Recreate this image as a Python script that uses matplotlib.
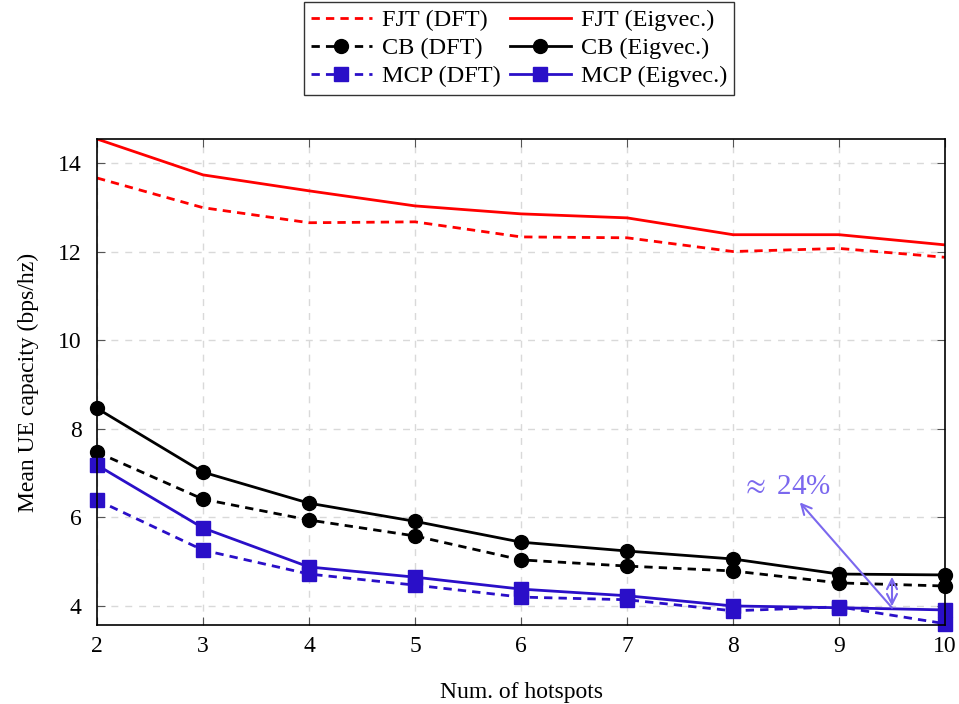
import matplotlib
matplotlib.use("Agg")
import matplotlib.pyplot as plt

plt.rcParams['font.family'] = ['Liberation Serif', 'DejaVu Serif']
plt.rcParams['mathtext.fontset'] = 'stix'

hotspots = [2, 3, 4, 5, 6, 7, 8, 9, 10]
fjt_dft = [13.66, 12.99, 12.65, 12.67, 12.33, 12.31, 12.00, 12.07, 11.87]
fjt_eig = [14.54, 13.73, 13.37, 13.03, 12.85, 12.76, 12.38, 12.38, 12.15]
cb_dft = [7.47, 6.41, 5.94, 5.58, 5.04, 4.90, 4.79, 4.52, 4.45]
cb_eig = [8.46, 7.02, 6.32, 5.91, 5.44, 5.24, 5.06, 4.72, 4.70]
mcp_dft = [6.39, 5.26, 4.72, 4.47, 4.20, 4.14, 3.89, 3.98, 3.60]
mcp_eig = [7.18, 5.76, 4.88, 4.65, 4.38, 4.23, 4.00, 3.96, 3.91]

red = '#ff0000'
blue = '#2a0fc8'
purple = '#7b68ee'
dash = (0, (3, 2.2))

fig = plt.figure(figsize=(9.59, 7.04), dpi=100)
ax = fig.add_axes([97/959, 1 - 625/704, (945-97)/959, (625-139)/704])

ax.plot(hotspots, fjt_dft, color=red, lw=2, ls=dash, label='FJT (DFT)')
ax.plot(hotspots, fjt_eig, color=red, lw=2, label='FJT (Eigvec.)')
ax.plot(hotspots, cb_dft, color='black', lw=2, ls=dash, marker='o', ms=10, label='CB (DFT)', clip_on=False)
ax.plot(hotspots, cb_eig, color='black', lw=2, marker='o', ms=10, label='CB (Eigvec.)', clip_on=False)
ax.plot(hotspots, mcp_dft, color=blue, lw=2, ls=dash, marker='s', ms=10, label='MCP (DFT)', clip_on=False)
ax.plot(hotspots, mcp_eig, color=blue, lw=2, marker='s', ms=10, label='MCP (Eigvec.)', clip_on=False)

ax.set_xlim(2, 10)
ax.set_ylim(3.57, 14.54)
ax.set_xticks(hotspots)
ax.set_yticks([4, 6, 8, 10, 12, 14])
ax.grid(True, color='#d9d9d9', ls=(0, (5, 5)), lw=1)
ax.tick_params(direction='in', top=True, right=True, length=6, color='#555555',
               labelsize=17, pad=8)
ax.tick_params(axis='y', pad=11)
for sp in ax.spines.values():
    sp.set_linewidth(1.2)

ax.set_xlabel('Num. of hotspots', fontsize=17, labelpad=18)
ax.set_ylabel('Mean UE capacity (bps/hz)', fontsize=17, labelpad=14)

# gap marker between CB and MCP at 9.5 hotspots
ax.annotate('', xy=(9.5, 3.93), xytext=(9.5, 4.72),
            arrowprops=dict(arrowstyle='<->', color=purple, lw=1.5, mutation_scale=18))
ax.annotate(r'$\approx$ 24%', xy=(9.5, 3.96), xytext=(8.5, 6.4),
            fontsize=21, color=purple, ha='center', va='bottom',
            arrowprops=dict(arrowstyle='<-', color=purple, lw=1.5, mutation_scale=18,
                            shrinkA=0, shrinkB=0))

# row-wise legend: DFT on the left, Eigvec. on the right
handles, labels = ax.get_legend_handles_labels()
order = [0, 2, 4, 1, 3, 5]
leg = fig.legend([handles[i] for i in order], [labels[i] for i in order],
                 loc='upper center', bbox_to_anchor=(519/959, 1 - 2/704),
                 borderaxespad=0,
                 ncol=2, fontsize=17.5, frameon=True, fancybox=False, edgecolor='black',
                 handlelength=2.5, columnspacing=0.4, handletextpad=0.4,
                 labelspacing=0.25, borderpad=0.3)
leg.get_frame().set_linewidth(1)

fig.savefig('out.png', dpi=100)
